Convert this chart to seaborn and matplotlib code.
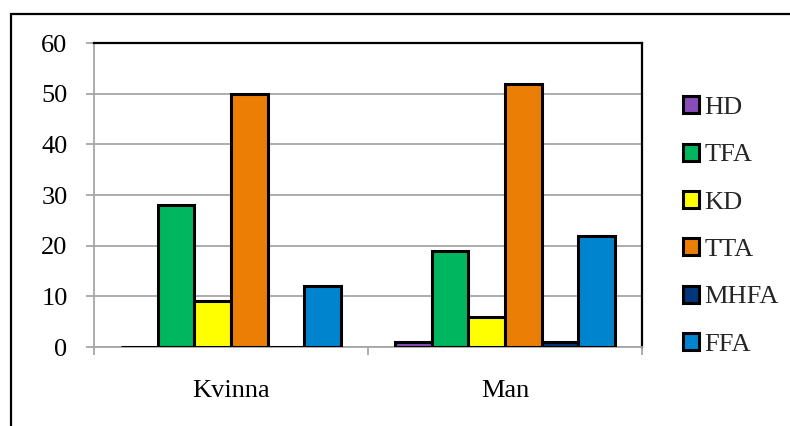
import matplotlib
matplotlib.use("Agg")
import matplotlib.pyplot as plt
import matplotlib.patches as mpatches
import seaborn as sns
import pandas as pd

# Groups and series values
categories = ["Kvinna", "Man"]
series = ["HD", "TFA", "KD", "TTA", "MHFA", "FFA"]
hd = [0, 1]
tfa = [28, 19]
kd = [9, 6]
tta = [50, 52]
mhfa = [0, 1]
ffa = [12, 22]
y_ticks = [0, 10, 20, 30, 40, 50, 60]

colors = ["#8A4CBA", "#00B65F", "#FFFF00", "#EB7F05", "#00377A", "#0084CE"]

values = [hd, tfa, kd, tta, mhfa, ffa]
rows = []
for name, vals in zip(series, values):
    for cat, v in zip(categories, vals):
        rows.append({"Group": cat, "Series": name, "Value": v})
df = pd.DataFrame(rows)

sns.set_theme(style="white")
plt.rcParams["font.family"] = ["Liberation Serif", "DejaVu Serif"]

fig = plt.figure(figsize=(7.9, 4.26), dpi=100)
ax = fig.add_axes([94 / 790, 1 - 347 / 426, (642 - 94) / 790, (347 - 43) / 426])

sns.barplot(data=df, x="Group", y="Value", hue="Series", order=categories,
            hue_order=series, palette=colors, width=0.8, edgecolor="black",
            linewidth=2.2, saturation=1, ax=ax, zorder=3)

ax.set_ylim(0, 60)
ax.set_xlim(-0.5, 1.5)
ax.set_yticks(y_ticks)
ax.yaxis.grid(True, color="#A6A6A6", linewidth=1.3, zorder=0)
ax.set_axisbelow(True)
ax.set_xlabel("")
ax.set_ylabel("")

for side in ["top", "right"]:
    ax.spines[side].set_color("black")
    ax.spines[side].set_linewidth(1.6)
for side in ["left", "bottom"]:
    ax.spines[side].set_color("#A6A6A6")
    ax.spines[side].set_linewidth(1.3)

ax.tick_params(axis="y", which="major", left=True, length=6, width=1.3,
               color="#A6A6A6", labelsize=19, pad=13, labelcolor="black")
ax.set_xticks([-0.5, 0.5, 1.5], minor=True)
ax.tick_params(axis="x", which="minor", bottom=True, length=6, width=1.3,
               color="#A6A6A6")
ax.tick_params(axis="x", which="major", length=0, labelsize=19, pad=24,
               labelcolor="black")

handles, labels = ax.get_legend_handles_labels()
ax.legend(handles, labels, loc="center left", bbox_to_anchor=(683 / 790, 1 - 226 / 426),
          bbox_transform=fig.transFigure, frameon=False, fontsize=19,
          handlelength=0.62, handleheight=0.62, handletextpad=0.2,
          labelspacing=0.93, borderaxespad=0, borderpad=0)

# Outer chart frame
frame = mpatches.Rectangle((11 / 790, -0.1), 1.2, 1 - 14 / 426 + 0.1,
                           transform=fig.transFigure, fill=False,
                           edgecolor="black", linewidth=1.6, clip_on=False)
fig.patches.append(frame)

fig.savefig("out.png", dpi=100)
